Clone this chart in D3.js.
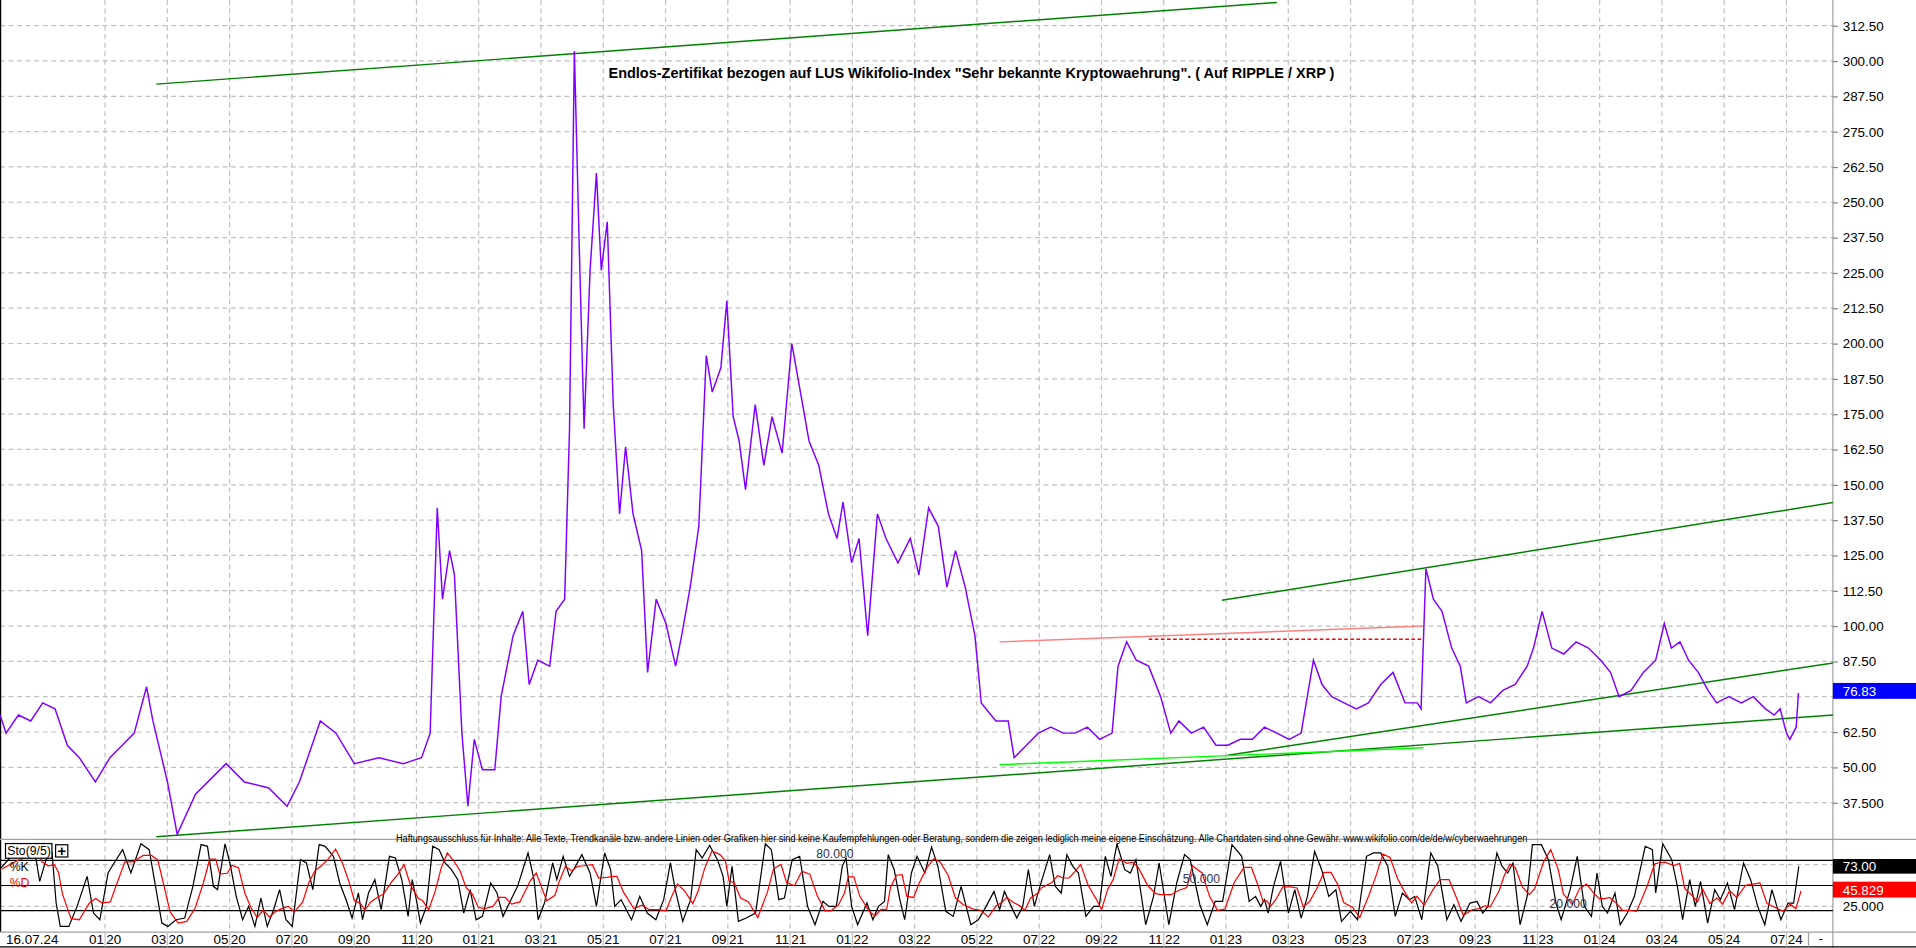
<!DOCTYPE html>
<html><head><meta charset="utf-8">
<script src="https://cdn.jsdelivr.net/npm/d3@7"></script>
<style>html,body{margin:0;padding:0;background:#fff;overflow:hidden}svg{display:block}</style>
</head><body>
<svg id="c" width="1916" height="948" viewBox="0 0 1568 776" preserveAspectRatio="none"></svg>
<script>
// ---- data (time as decimal year) ----
const priceTime = [2019.719,2019.735,2019.768,2019.801,2019.833,2019.866,2019.899,2019.931,2019.974,2020.013,2020.046,2020.078,2020.111,2020.128,2020.167,2020.193,2020.242,2020.324,2020.373,2020.438,2020.487,2020.520,2020.576,2020.618,2020.667,2020.733,2020.798,2020.847,2020.870,2020.889,2020.903,2020.922,2020.935,2020.955,2020.971,2020.988,2021.010,2021.043,2021.060,2021.092,2021.118,2021.135,2021.158,2021.190,2021.207,2021.230,2021.243,2021.256,2021.269,2021.282,2021.298,2021.315,2021.328,2021.344,2021.360,2021.377,2021.393,2021.413,2021.436,2021.452,2021.475,2021.501,2021.527,2021.543,2021.566,2021.589,2021.609,2021.625,2021.648,2021.664,2021.681,2021.697,2021.714,2021.740,2021.763,2021.785,2021.812,2021.838,2021.861,2021.884,2021.910,2021.936,2021.959,2021.975,2021.998,2022.018,2022.041,2022.067,2022.090,2022.122,2022.155,2022.178,2022.204,2022.230,2022.253,2022.276,2022.302,2022.328,2022.345,2022.384,2022.417,2022.433,2022.466,2022.498,2022.531,2022.564,2022.596,2022.629,2022.662,2022.695,2022.711,2022.734,2022.760,2022.793,2022.825,2022.852,2022.874,2022.907,2022.940,2022.973,2023.005,2023.038,2023.071,2023.103,2023.136,2023.169,2023.201,2023.234,2023.257,2023.283,2023.316,2023.349,2023.381,2023.414,2023.447,2023.479,2023.512,2023.522,2023.535,2023.555,2023.578,2023.604,2023.627,2023.643,2023.676,2023.708,2023.741,2023.774,2023.806,2023.823,2023.846,2023.872,2023.904,2023.937,2023.970,2024.003,2024.029,2024.052,2024.084,2024.117,2024.150,2024.173,2024.192,2024.215,2024.238,2024.264,2024.290,2024.313,2024.346,2024.379,2024.411,2024.444,2024.467,2024.483,2024.500,2024.509,2024.526,2024.532];
const priceValue = [68.5,62.1,68.5,66.4,72.8,70.7,57.8,53.4,44.8,53.4,57.8,62.1,78.5,66.4,44.8,26.3,40.5,51.3,44.8,42.7,36.2,44.8,66.4,62.1,51.3,53.4,51.3,53.4,62.1,141.8,109.5,126.7,118.1,62.1,36.2,59.9,49.1,49.1,75.0,96.6,105.2,79.3,87.9,85.8,105.2,109.5,169.8,303.5,234.5,169.8,225.9,260.3,225.9,243.1,178.4,139.7,163.4,139.7,126.7,83.6,109.5,100.9,85.8,96.6,113.8,135.3,195.7,182.8,191.4,215.1,174.1,165.5,148.3,178.4,156.9,174.1,161.2,200.0,182.8,165.5,156.9,139.7,131.0,143.9,122.4,131.0,96.6,139.7,131.0,122.4,131.0,118.1,141.8,135.3,113.8,126.7,113.8,96.6,72.8,66.4,66.4,53.4,57.8,62.1,64.2,62.1,62.1,64.2,59.9,62.1,85.8,94.4,87.9,85.8,75.0,62.1,66.4,62.1,64.2,57.8,57.8,59.9,59.9,64.2,62.1,59.9,62.1,87.9,79.3,75.0,72.8,70.7,72.8,79.3,83.6,72.8,72.8,70.7,120.3,109.5,105.2,92.2,85.8,72.8,75.0,72.8,77.2,79.3,85.8,92.2,105.2,92.2,90.1,94.4,92.2,87.9,83.6,75.0,77.2,83.6,87.9,100.9,92.2,94.4,87.9,83.6,77.2,72.8,75.0,72.8,75.0,70.7,68.5,70.7,62.1,59.9,64.2,76.3];

const stoTime = [2019.719,2019.76,2019.79,2019.814,2019.825,2019.842,2019.858,2019.869,2019.880,2019.903,2019.925,2019.952,2019.969,2019.986,2020.008,2020.024,2020.047,2020.069,2020.096,2020.118,2020.135,2020.152,2020.168,2020.190,2020.213,2020.235,2020.257,2020.274,2020.290,2020.301,2020.321,2020.334,2020.351,2020.368,2020.384,2020.401,2020.417,2020.434,2020.451,2020.467,2020.484,2020.501,2020.523,2020.539,2020.556,2020.573,2020.589,2020.611,2020.628,2020.645,2020.661,2020.678,2020.689,2020.705,2020.722,2020.739,2020.761,2020.777,2020.794,2020.811,2020.822,2020.833,2020.844,2020.860,2020.877,2020.894,2020.910,2020.927,2020.944,2020.960,2020.977,2020.993,2021.010,2021.032,2021.049,2021.065,2021.082,2021.104,2021.132,2021.148,2021.159,2021.176,2021.198,2021.209,2021.226,2021.243,2021.259,2021.276,2021.298,2021.315,2021.337,2021.353,2021.364,2021.381,2021.409,2021.431,2021.451,
2021.474,2021.495,2021.513,2021.526,2021.546,2021.567,2021.582,2021.598,2021.618,2021.639,2021.654,2021.664,2021.678,2021.695,2021.716,2021.741,2021.767,2021.783,2021.803,2021.818,2021.839,2021.859,2021.880,2021.900,2021.921,2021.937,2021.957,2021.973,2021.983,2021.998,2022.014,2022.039,2022.055,2022.070,2022.086,2022.096,2022.112,2022.127,2022.140,2022.158,2022.173,2022.194,2022.212,2022.229,2022.250,2022.270,2022.291,2022.317,2022.337,2022.358,2022.379,2022.394,2022.407,2022.425,2022.440,2022.456,2022.471,2022.487,2022.502,2022.528,2022.543,2022.559,2022.574,2022.590,2022.605,2022.625,2022.646,2022.661,2022.677,2022.692,2022.708,2022.729,2022.744,2022.759,2022.785,2022.806,2022.821,2022.847,2022.868,2022.889,2022.904,2022.930,2022.950,2022.971,2022.991,2023.016,2023.042,
2023.062,2023.079,2023.093,2023.103,2023.113,2023.127,2023.146,2023.167,2023.184,2023.201,2023.218,2023.237,2023.256,2023.275,2023.294,2023.309,2023.333,2023.352,2023.376,2023.395,2023.414,2023.433,2023.453,2023.472,2023.491,2023.505,2023.524,2023.548,2023.567,2023.591,2023.610,2023.629,2023.653,2023.672,2023.687,2023.701,2023.725,2023.739,2023.754,2023.768,2023.787,2023.806,2023.820,2023.844,2023.863,2023.883,2023.897,2023.921,2023.940,2023.959,2023.978,2023.993,2024.007,2024.021,2024.041,2024.055,2024.074,2024.093,2024.122,2024.141,2024.150,2024.169,2024.193,2024.208,2024.222,2024.241,2024.256,2024.270,2024.289,2024.308,2024.323,2024.342,2024.361,2024.385,2024.404,2024.423,2024.442,2024.461,2024.485,2024.504,2024.519,2024.533];
const stoK = [70,90,95,85,55,81,89,29,1,1,25,61,17,9,65,77,93,65,100,93,49,5,1,9,11,49,99,97,49,45,100,77,37,9,25,1,35,1,21,45,9,1,81,77,45,99,97,85,53,33,11,41,9,41,57,21,85,83,57,13,57,33,5,25,97,93,77,69,57,17,45,9,13,53,41,13,29,49,89,57,9,29,77,57,85,61,73,87,65,25,89,69,25,33,9,37,17,
9,33,77,45,7,33,93,83,98,81,61,25,73,7,11,17,100,93,33,35,81,85,25,3,31,25,25,73,83,25,3,29,9,25,31,87,69,33,9,65,85,65,96,73,19,13,49,3,9,25,43,21,43,25,11,25,69,25,49,87,49,41,87,73,65,13,25,25,85,61,100,69,65,81,3,37,77,3,53,87,81,27,3,31,31,99,85,
31,37,25,33,17,49,79,17,45,11,37,91,69,37,45,7,19,9,85,89,89,73,13,41,33,37,9,89,73,9,27,7,29,31,17,25,89,73,65,77,3,37,99,99,81,29,9,45,85,25,13,65,25,17,41,3,17,37,97,93,41,100,81,49,9,57,25,55,5,45,33,53,21,77,57,25,3,45,9,29,29,73];

const priceTicks = [37.5,50,62.5,75,87.5,100,112.5,125,137.5,150,162.5,175,187.5,200,212.5,225,237.5,250,262.5,275,287.5,300,312.5];
const monthLabels = ["01","03","05","07","09","11"];
const yearLabels = ["20","21","22","23","24"];
// trend lines [t1, v1, t2, v2, colour, dashed]
const trendLines = [
  [2020.137,291.8,2023.136,320.7,"#008000",false],
  [2020.137,25.4,2024.762,69.8,"#008000",false],
  [2023.005,54.3,2024.762,89.7,"#008000",false],
  [2022.989,109.1,2024.762,146.6,"#008000",false],
  [2022.394,94.4,2023.528,100.0,"#ff8080",false],
  [2022.793,95.3,2023.524,95.3,"#ff0000",true],
  [2022.394,50.9,2023.528,56.9,"#00ff00",false]
];
const lastPrice = 76.83, lastK = "73.00", lastD = "45.829";

// ---- layout ----
const svg = d3.select("#c");
const W = 1568, plotR = 1500, mainB = 687, stoB = 763;
const x = d3.scaleLinear().domain([2020, 2024.5]).range([86, 1462]);
const y = d3.scaleLinear().domain([37.5, 312.5]).range([657, 21]);
const ys = d3.scaleLinear().domain([0, 100]).range([759, 690.7]);
const F = "'Liberation Sans', Arial, sans-serif";

const defs = svg.append("defs");
defs.append("clipPath").attr("id","cm").append("rect").attr("x",0).attr("y",0).attr("width",plotR).attr("height",mainB);
defs.append("clipPath").attr("id","cs").append("rect").attr("x",0).attr("y",mainB).attr("width",plotR).attr("height",stoB-mainB);

const tickT = d3.range(0, 28).map(k => 2020 + k/6);
const grid = svg.append("g").attr("stroke","#c0c0c0").attr("stroke-dasharray","4,3").attr("stroke-width",1);
tickT.forEach(t => grid.append("line").attr("x1",x(t)).attr("x2",x(t)).attr("y1",0).attr("y2",stoB));
priceTicks.forEach(v => grid.append("line").attr("x1",0).attr("x2",plotR).attr("y1",y(v)).attr("y2",y(v)));
[25,75].forEach(v => grid.append("line").attr("x1",0).attr("x2",plotR).attr("y1",ys(v)).attr("y2",ys(v)));

// frames
svg.append("line").attr("x1",0.5).attr("x2",0.5).attr("y1",0).attr("y2",stoB).attr("stroke","#000");
svg.append("line").attr("x1",plotR).attr("x2",plotR).attr("y1",0).attr("y2",776).attr("stroke","#a0a0a0");
svg.append("line").attr("x1",0).attr("x2",W).attr("y1",mainB).attr("y2",mainB).attr("stroke","#a0a0a0");
svg.append("line").attr("x1",0).attr("x2",W).attr("y1",stoB).attr("y2",stoB).attr("stroke","#a0a0a0");
svg.append("line").attr("x1",0).attr("x2",W).attr("y1",775).attr("y2",775).attr("stroke","#000");

// right price axis (75.00 sits under the current-price box)
const ax = svg.append("g").attr("transform",`translate(${plotR},0)`)
  .call(d3.axisRight(y).tickValues(priceTicks).tickSize(4).tickFormat(v => v===75 ? "" : (v===37.5 ? "37.500" : v.toFixed(2))));
ax.select(".domain").remove();
ax.selectAll("line").attr("stroke","#808080");
ax.selectAll("text").attr("font-family",F).attr("font-size",11).attr("fill","#000").attr("x",8);

// title & disclaimer
svg.append("text").attr("x",498).attr("y",64).attr("font-family",F).attr("font-weight","bold").attr("font-size",12)
  .attr("textLength",594).attr("lengthAdjust","spacingAndGlyphs")
  .text('Endlos-Zertifikat bezogen auf LUS Wikifolio-Index "Sehr bekannte Kryptowaehrung". ( Auf RIPPLE / XRP )');
svg.append("text").attr("x",324).attr("y",689).attr("font-family",F).attr("font-size",8.5)
  .attr("textLength",926).attr("lengthAdjust","spacingAndGlyphs")
  .text("Haftungsausschluss für Inhalte: Alle Texte, Trendkanäle bzw. andere Linien oder Grafiken hier sind keine Kaufempfehlungen oder Beratung, sondern die zeigen lediglich meine eigene Einschätzung. Alle Chartdaten sind ohne Gewähr. www.wikifolio.com/de/de/w/cyberwaehrungen");

// trend lines
const tl = svg.append("g").attr("clip-path","url(#cm)");
trendLines.forEach(d => tl.append("line").attr("x1",x(d[0])).attr("y1",y(d[1])).attr("x2",x(d[2])).attr("y2",y(d[3]))
  .attr("stroke",d[4]).attr("stroke-width",1.2).attr("stroke-dasharray",d[5]?"3,2":null));

// price line
const pts = priceTime.map((t,i)=>[t,priceValue[i]]);
svg.append("path").attr("clip-path","url(#cm)").datum(pts)
  .attr("d", d3.line().x(d=>x(d[0])).y(d=>y(d[1])))
  .attr("fill","none").attr("stroke","#8000ff").attr("stroke-width",1.2);

// current price box
svg.append("rect").attr("x",plotR).attr("y",y(lastPrice)-7).attr("width",W-plotR).attr("height",13).attr("fill","#0000ff");
svg.append("text").attr("x",plotR+8).attr("y",y(lastPrice)+4).attr("font-family",F).attr("font-size",11).attr("fill","#fff").text(lastPrice.toFixed(2));

// stochastic
[80,50,20].forEach(v => svg.append("line").attr("x1",0).attr("x2",plotR).attr("y1",ys(v)).attr("y2",ys(v)).attr("stroke","#000").attr("stroke-width",1));
const kPts = stoTime.map((t,i)=>[t,stoK[i]]);
const dPts = kPts.map((d,i)=>{const s=kPts.slice(Math.max(0,i-2),i+1);return [d[0]+0.006, d3.mean(s,e=>e[1])];});
const sl = d3.line().x(d=>x(d[0])).y(d=>ys(d[1]));
svg.append("path").attr("clip-path","url(#cs)").datum(kPts).attr("d",sl).attr("fill","none").attr("stroke","#000").attr("stroke-width",1);
svg.append("path").attr("clip-path","url(#cs)").datum(dPts).attr("d",sl).attr("fill","none").attr("stroke","#ff0000").attr("stroke-width",1);
[[80,"80.000",668],[50,"50.000",968],[20,"20.000",1268]].forEach(d=>
  svg.append("text").attr("x",d[2]).attr("y",ys(d[0])-2).attr("font-family",F).attr("font-size",10).attr("fill","#303050").text(d[1]));

// sto labels
svg.append("rect").attr("x",4.5).attr("y",690.5).attr("width",38).attr("height",12).attr("fill","#fff").attr("stroke","#000");
svg.append("text").attr("x",6).attr("y",700).attr("font-family",F).attr("font-size",10).text("Sto(9/5)");
svg.append("rect").attr("x",45.5).attr("y",691.5).attr("width",10).attr("height",10).attr("fill","#fff").attr("stroke","#000");
svg.append("text").attr("x",50.5).attr("y",700.5).attr("text-anchor","middle").attr("font-family",F).attr("font-weight","bold").attr("font-size",12).text("+");
svg.append("text").attr("x",8).attr("y",713).attr("font-family",F).attr("font-size",10).text("%K");
svg.append("text").attr("x",8).attr("y",726).attr("font-family",F).attr("font-size",10).attr("fill","#ff0000").text("%D");

svg.append("rect").attr("x",plotR).attr("y",ys(73)-6).attr("width",W-plotR).attr("height",12).attr("fill","#000");
svg.append("text").attr("x",plotR+8).attr("y",ys(73)+4).attr("font-family",F).attr("font-size",11).attr("fill","#fff").text(lastK);
svg.append("rect").attr("x",plotR).attr("y",ys(45.829)-6).attr("width",W-plotR).attr("height",13).attr("fill","#ff0000");
svg.append("text").attr("x",plotR+8).attr("y",ys(45.829)+5).attr("font-family",F).attr("font-size",11).attr("fill","#fff").text(lastD);
svg.append("text").attr("x",plotR+8).attr("y",ys(25)+4).attr("font-family",F).attr("font-size",11).text("25.000");

// time axis labels
const xa = svg.append("g").attr("font-family",F).attr("font-size",11);
tickT.forEach((t,k)=>{
  const xx = x(t);
  xa.append("text").attr("x",xx-1).attr("y",773).attr("text-anchor","end").text(monthLabels[k%6]);
  xa.append("text").attr("x",xx+1).attr("y",773).text(yearLabels[Math.floor(k/6)]);
  xa.append("line").attr("x1",xx).attr("x2",xx).attr("y1",stoB).attr("y2",775).attr("stroke","#c0c0c0");
});
xa.append("text").attr("x",5).attr("y",773).text("16.07.24");
svg.append("line").attr("x1",1480).attr("x2",1480).attr("y1",stoB).attr("y2",775).attr("stroke","#a0a0a0");
xa.append("text").attr("x",1490).attr("y",772).attr("text-anchor","middle").text("-");
</script>
</body></html>
